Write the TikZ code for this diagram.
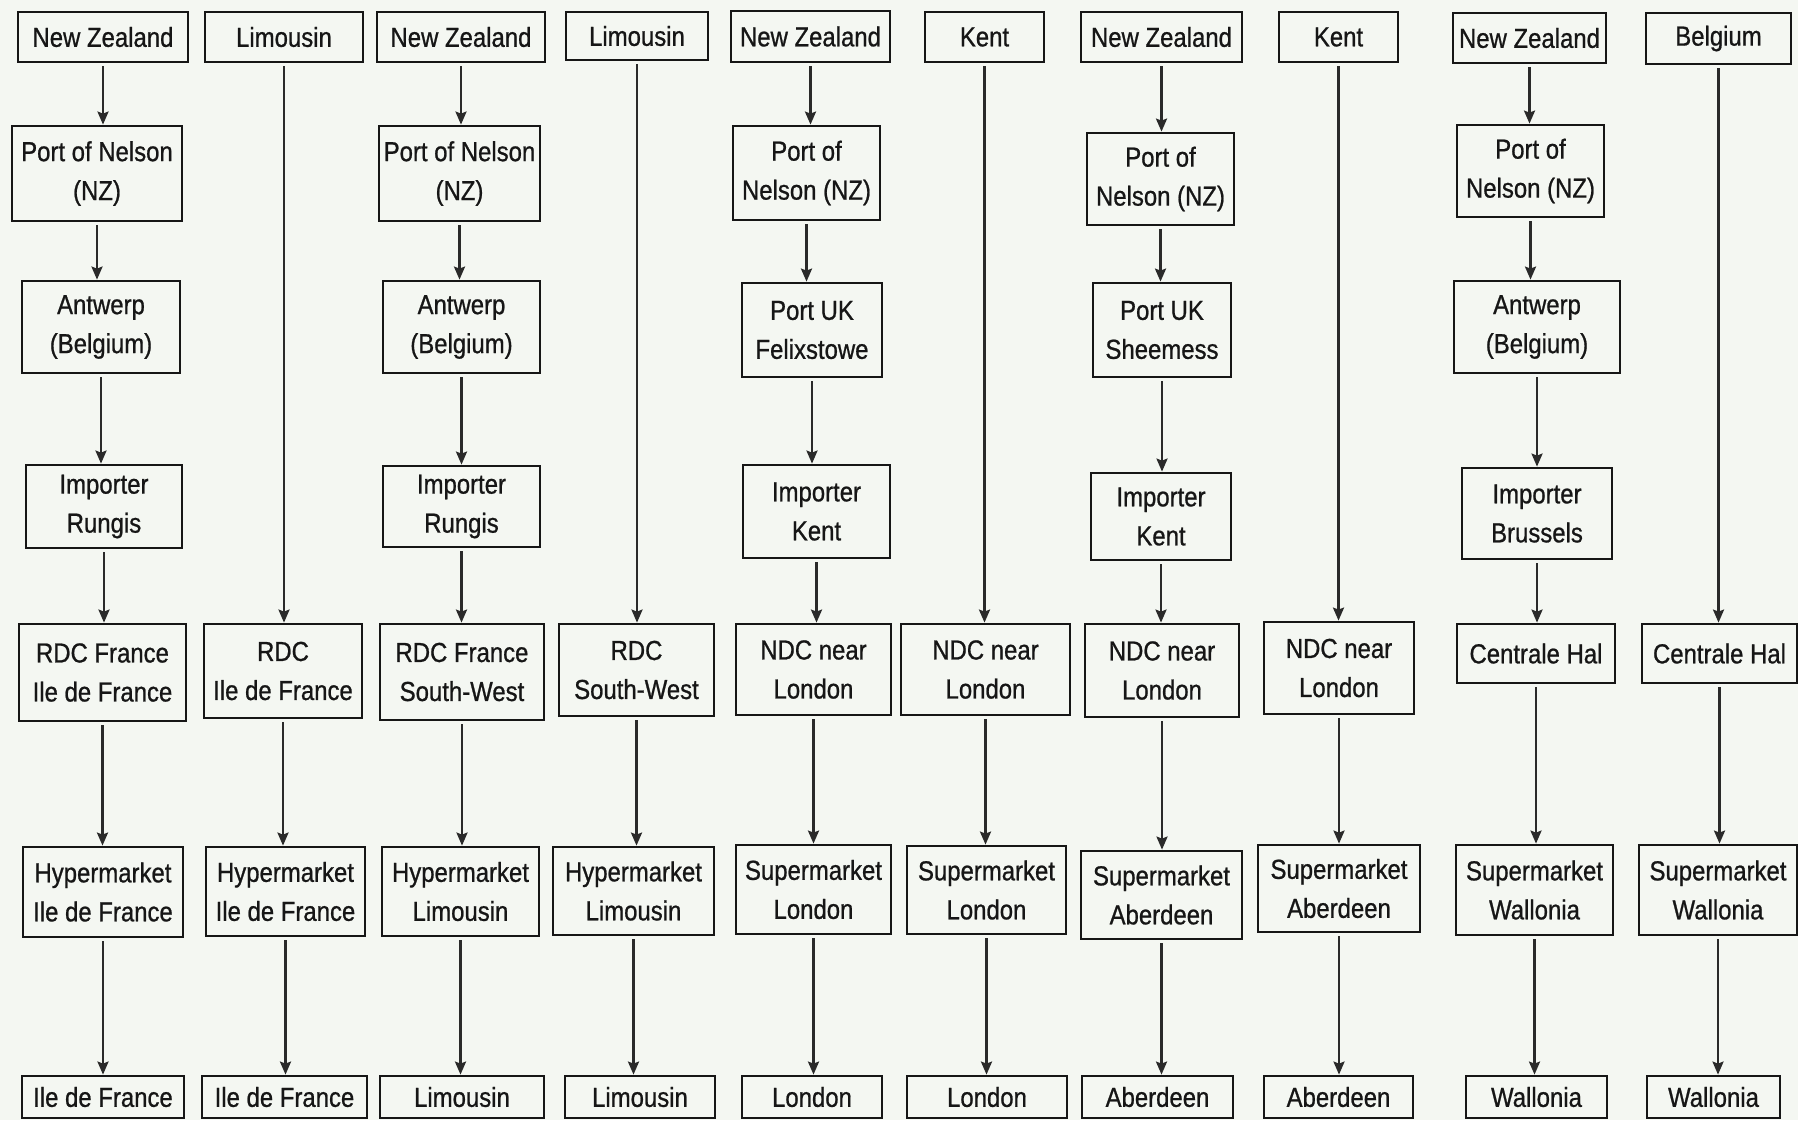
\documentclass[tikz,border=0pt]{standalone}
\usepackage{fontspec}
\newfontfamily\labfont[FakeStretch=0.87,FakeBold=0.8]{Liberation Sans}
\usetikzlibrary{arrows.meta}
\definecolor{bg}{RGB}{244,247,242}
\definecolor{ink}{RGB}{22,22,22}
\definecolor{arrowink}{RGB}{42,42,42}
\tikzset{
  bx/.style={draw=ink, line width=2.8pt, rectangle, inner sep=0pt, align=center, text=ink,
    font=\labfont\fontsize{27.5}{39}\selectfont},
  arr/.style={draw=arrowink, line width=2.4pt, shorten <=3pt,
    -{Stealth[length=13pt,width=11pt,inset=2pt]}},
}
\newcommand\mybox[6]{\node[bx, minimum width={#4pt-#2pt}, minimum height={#5pt-#3pt}] (#1) at ({(#2+#4)/2},{(#3+#5)/2}) {#6};}
\begin{document}
\begin{tikzpicture}[x=1pt,y=-1pt]
\fill[bg] (0,0) rectangle (1798,1120);
\useasboundingbox (0,0) rectangle (1798,1120);
% column 1
\mybox{a1}{18}{12}{188}{62}{New Zealand}
\mybox{a2}{12}{126}{182}{221}{Port of Nelson\\(NZ)}
\mybox{a3}{22}{281}{180}{373}{Antwerp\\(Belgium)}
\mybox{a4}{26}{465}{182}{548}{Importer\\Rungis}
\mybox{a5}{19}{624}{186}{721}{RDC France\\Ile de France}
\mybox{a6}{23}{847}{183}{937}{Hypermarket\\Ile de France}
\mybox{a7}{22}{1076}{184}{1118}{Ile de France}
% column 2
\mybox{b1}{205}{12}{363}{62}{Limousin}
\mybox{b5}{204}{624}{362}{718}{RDC\\Ile de France}
\mybox{b6}{206}{847}{365}{936}{Hypermarket\\Ile de France}
\mybox{b7}{202}{1076}{367}{1118}{Ile de France}
% column 3
\mybox{c1}{377}{12}{545}{62}{New Zealand}
\mybox{c2}{379}{126}{540}{221}{Port of Nelson\\(NZ)}
\mybox{c3}{383}{281}{540}{373}{Antwerp\\(Belgium)}
\mybox{c4}{383}{466}{540}{547}{Importer\\Rungis}
\mybox{c5}{380}{624}{544}{720}{RDC France\\South-West}
\mybox{c6}{382}{847}{539}{936}{Hypermarket\\Limousin}
\mybox{c7}{380}{1076}{544}{1118}{Limousin}
% column 4
\mybox{d1}{566}{12}{708}{60}{Limousin}
\mybox{d5}{559}{624}{714}{716}{RDC\\South-West}
\mybox{d6}{553}{847}{714}{935}{Hypermarket\\Limousin}
\mybox{d7}{565}{1076}{715}{1118}{Limousin}
% column 5
\mybox{e1}{731}{11}{890}{62}{New Zealand}
\mybox{e2}{733}{126}{880}{220}{Port of\\Nelson (NZ)}
\mybox{e3}{742}{283}{882}{377}{Port UK\\Felixstowe}
\mybox{e4}{743}{465}{890}{558}{Importer\\Kent}
\mybox{e5}{736}{624}{891}{715}{NDC near\\London}
\mybox{e6}{736}{845}{891}{934}{Supermarket\\London}
\mybox{e7}{742}{1076}{882}{1118}{London}
% column 6
\mybox{f1}{925}{12}{1044}{62}{Kent}
\mybox{f5}{901}{624}{1070}{715}{NDC near\\London}
\mybox{f6}{907}{846}{1066}{934}{Supermarket\\London}
\mybox{f7}{907}{1076}{1067}{1118}{London}
% column 7
\mybox{g1}{1081}{12}{1242}{62}{New Zealand}
\mybox{g2}{1087}{133}{1234}{225}{Port of\\Nelson (NZ)}
\mybox{g3}{1093}{283}{1231}{377}{Port UK\\Sheemess}
\mybox{g4}{1091}{473}{1231}{560}{Importer\\Kent}
\mybox{g5}{1085}{624}{1239}{717}{NDC near\\London}
\mybox{g6}{1081}{851}{1242}{939}{Supermarket\\Aberdeen}
\mybox{g7}{1082}{1076}{1233}{1118}{Aberdeen}
% column 8
\mybox{h1}{1279}{12}{1398}{62}{Kent}
\mybox{h5}{1264}{622}{1414}{714}{NDC near\\London}
\mybox{h6}{1258}{845}{1420}{932}{Supermarket\\Aberdeen}
\mybox{h7}{1264}{1076}{1413}{1118}{Aberdeen}
% column 9
\mybox{i1}{1453}{13}{1606}{63}{New Zealand}
\mybox{i2}{1457}{125}{1604}{217}{Port of\\Nelson (NZ)}
\mybox{i3}{1454}{281}{1620}{373}{Antwerp\\(Belgium)}
\mybox{i4}{1462}{468}{1612}{559}{Importer\\Brussels}
\mybox{i5}{1457}{624}{1615}{683}{Centrale Hal}
\mybox{i6}{1456}{845}{1613}{935}{Supermarket\\Wallonia}
\mybox{i7}{1466}{1076}{1607}{1118}{Wallonia}
% column 10
\mybox{j1}{1646}{13}{1791}{64}{Belgium}
\mybox{j5}{1642}{624}{1797}{683}{Centrale Hal}
\mybox{j6}{1639}{845}{1797}{935}{Supermarket\\Wallonia}
\mybox{j7}{1647}{1076}{1780}{1118}{Wallonia}
% connectors
\foreach \p/\q in {a1/a2,a2/a3,a3/a4,a4/a5,a5/a6,a6/a7,
                   b1/b5,b5/b6,b6/b7,
                   c1/c2,c2/c3,c3/c4,c4/c5,c5/c6,c6/c7,
                   d1/d5,d5/d6,d6/d7,
                   e1/e2,e2/e3,e3/e4,e4/e5,e5/e6,e6/e7,
                   f1/f5,f5/f6,f6/f7,
                   g1/g2,g2/g3,g3/g4,g4/g5,g5/g6,g6/g7,
                   h1/h5,h5/h6,h6/h7,
                   i1/i2,i2/i3,i3/i4,i4/i5,i5/i6,i6/i7,
                   j1/j5,j5/j6,j6/j7}
  \draw[arr] (\p) -- (\p |- \q.north);
\end{tikzpicture}
\end{document}
